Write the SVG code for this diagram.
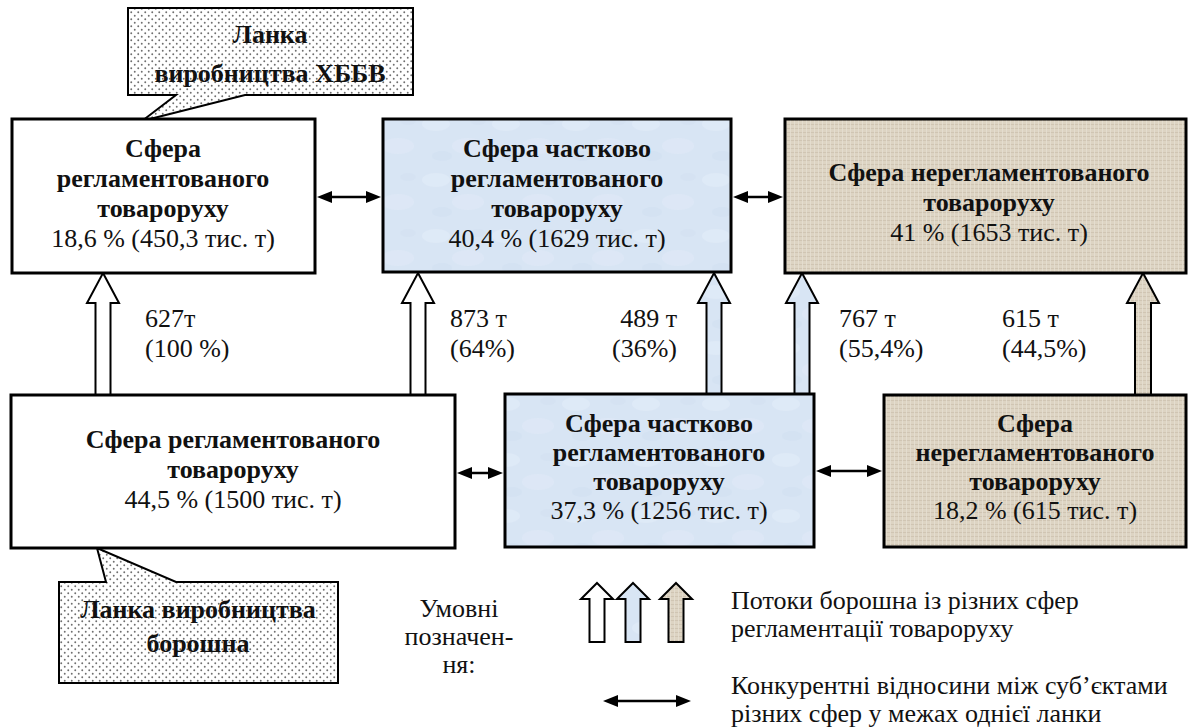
<svg xmlns="http://www.w3.org/2000/svg" width="1189" height="727" viewBox="0 0 1189 727">
<style>
  text { font-family: "Liberation Serif", "Times New Roman", serif; font-size: 26px; fill: #111; }
  .b { font-weight: bold; }
  .c { text-anchor: middle; }
  .e { text-anchor: end; }
  .box { stroke: #000; stroke-width: 3; }
  .white { fill: #fff; }
  .blue { fill: url(#bluetex); }
  .tan { fill: url(#tantex); }
  .call { fill: url(#dots); stroke: #000; stroke-width: 2; stroke-linejoin: miter; }
  .flow { stroke: #000; stroke-width: 2; stroke-linejoin: miter; }
  .dbl { stroke: #000; stroke-width: 2.5; fill: none; marker-start: url(#ah); marker-end: url(#ah); }
</style>
<defs>
  <pattern id="dots" width="7" height="7" patternUnits="userSpaceOnUse">
    <rect width="7" height="7" fill="#fff"/>
    <circle cx="1.75" cy="1.75" r="0.95" fill="#6e6e6e"/>
    <circle cx="5.25" cy="5.25" r="0.95" fill="#6e6e6e"/>
  </pattern>
  <pattern id="bluetex" width="70" height="56" patternUnits="userSpaceOnUse">
    <rect width="70" height="56" fill="#d8e5f4"/>
    <ellipse cx="16" cy="12" rx="14" ry="7" fill="#e3ecf8" opacity="0.6"/>
    <ellipse cx="48" cy="34" rx="16" ry="8" fill="#e1eaf7" opacity="0.5"/>
    <ellipse cx="22" cy="44" rx="10" ry="5" fill="#cfdef0" opacity="0.45"/>
    <ellipse cx="58" cy="9" rx="8" ry="4" fill="#d0dff1" opacity="0.4"/>
  </pattern>
  <pattern id="tantex" width="8" height="8" patternUnits="userSpaceOnUse">
    <rect width="8" height="8" fill="#ddd4c3"/>
    <path d="M0 0.5 H8 M0 4.5 H8" stroke="#cdc2ae" stroke-width="0.8"/>
    <path d="M2.5 0 V8 M6.5 0 V8" stroke="#e6dfd2" stroke-width="0.8"/>
  </pattern>
  <marker id="ah" viewBox="0 0 15 12" refX="1" refY="6" markerWidth="15" markerHeight="12" markerUnits="userSpaceOnUse" orient="auto-start-reverse">
    <path d="M0 0 L15 6 L0 12 Z" fill="#000"/>
  </marker>
</defs>

<g id="callout-top">
  <path class="call" d="M128 8 H413 V95 H245 L142 121 L176 95 H128 Z"/>
  <text class="b c" x="270" y="43">Ланка</text>
  <text class="b c" x="270" y="82">виробництва ХББВ</text>
</g>

<g id="callout-bottom">
  <path class="call" d="M59 582 H106 L97 548 L176 582 H338 V683 H59 Z"/>
  <text class="b c" x="198" y="618">Ланка виробництва</text>
  <text class="b c" x="198" y="652">борошна</text>
</g>

<g id="flows">
  <path class="flow white" d="M103 273 L119 303 L110.5 303 L110.5 395 L95.5 395 L95.5 303 L87 303 Z"/>
  <path class="flow white" d="M418 273 L434 303 L425.5 303 L425.5 395 L410.5 395 L410.5 303 L402 303 Z"/>
  <path class="flow blue" d="M714 273 L730 303 L721.5 303 L721.5 394 L706.5 394 L706.5 303 L698 303 Z"/>
  <path class="flow blue" d="M802 273 L818 303 L809.5 303 L809.5 394 L794.5 394 L794.5 303 L786 303 Z"/>
  <path class="flow tan" d="M1143 273 L1159 303 L1151 303 L1151 395 L1135 395 L1135 303 L1127 303 Z"/>
</g>

<g id="top-left">
  <rect class="box white" x="12" y="119" width="303" height="154"/>
  <text class="b c" x="163" y="157">Сфера</text>
  <text class="b c" x="163" y="187">регламентованого</text>
  <text class="b c" x="163" y="217">товароруху</text>
  <text class="c" x="163" y="247">18,6 % (450,3 тис. т)</text>
</g>

<g id="top-middle">
  <rect class="box blue" x="383" y="119" width="348" height="153"/>
  <text class="b c" x="557" y="157">Сфера частково</text>
  <text class="b c" x="557" y="187">регламентованого</text>
  <text class="b c" x="557" y="217">товароруху</text>
  <text class="c" x="557" y="247">40,4 % (1629 тис. т)</text>
</g>

<g id="top-right">
  <rect class="box tan" x="785" y="119" width="401" height="154"/>
  <text class="b c" x="989" y="181">Сфера нерегламентованого</text>
  <text class="b c" x="989" y="211">товароруху</text>
  <text class="c" x="989" y="241">41 % (1653 тис. т)</text>
</g>

<g id="bottom-left">
  <rect class="box white" x="11" y="395" width="444" height="153"/>
  <text class="b c" x="233" y="448">Сфера регламентованого</text>
  <text class="b c" x="233" y="478">товароруху</text>
  <text class="c" x="233" y="508">44,5 % (1500 тис. т)</text>
</g>

<g id="bottom-middle">
  <rect class="box blue" x="505" y="394" width="309" height="153"/>
  <text class="b c" x="659" y="432">Сфера частково</text>
  <text class="b c" x="659" y="461">регламентованого</text>
  <text class="b c" x="659" y="490">товароруху</text>
  <text class="c" x="659" y="519">37,3 % (1256 тис. т)</text>
</g>

<g id="bottom-right">
  <rect class="box tan" x="884" y="395" width="302" height="152"/>
  <text class="b c" x="1035" y="432">Сфера</text>
  <text class="b c" x="1035" y="461">нерегламентованого</text>
  <text class="b c" x="1035" y="490">товароруху</text>
  <text class="c" x="1035" y="519">18,2 % (615 тис. т)</text>
</g>

<g id="connectors">
  <line class="dbl" x1="331" y1="197" x2="367" y2="197"/>
  <line class="dbl" x1="747" y1="197" x2="769" y2="197"/>
  <line class="dbl" x1="471" y1="473" x2="489" y2="473"/>
  <line class="dbl" x1="830" y1="471" x2="868" y2="471"/>
</g>

<g id="flow-labels">
  <text x="145" y="327">627т</text>
  <text x="145" y="357">(100 %)</text>
  <text x="450" y="327">873 т</text>
  <text x="450" y="357">(64%)</text>
  <text class="e" x="677" y="327">489 т</text>
  <text class="e" x="677" y="357">(36%)</text>
  <text x="839" y="327">767 т</text>
  <text x="839" y="357">(55,4%)</text>
  <text x="1002" y="327">615 т</text>
  <text x="1002" y="357">(44,5%)</text>
</g>

<g id="legend">
  <text class="c" x="459" y="617">Умовні</text>
  <text class="c" x="459" y="645">позначен-</text>
  <text class="c" x="459" y="673">ня:</text>
  <path class="flow white" d="M597 583 L613 599 L604.5 599 L604.5 642 L589.5 642 L589.5 599 L581 599 Z"/>
  <path class="flow blue" d="M633 583 L649 599 L640.5 599 L640.5 642 L625.5 642 L625.5 599 L617 599 Z"/>
  <path class="flow tan" d="M676 583 L692 599 L683.5 599 L683.5 642 L668.5 642 L668.5 599 L660 599 Z"/>
  <text x="731" y="609">Потоки борошна із різних сфер</text>
  <text x="731" y="637">регламентації товароруху</text>
  <line class="dbl" x1="617" y1="701" x2="677" y2="701"/>
  <text x="731" y="694">Конкурентні відносини між суб’єктами</text>
  <text x="731" y="722">різних сфер у межах однієї ланки</text>
</g>
</svg>
